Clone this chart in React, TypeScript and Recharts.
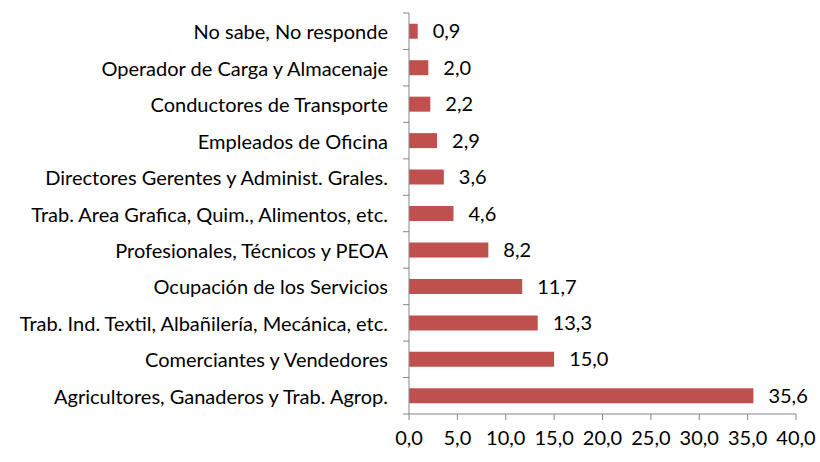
import { BarChart, Bar, XAxis, YAxis, LabelList } from "recharts";

const categories = [
  "No sabe, No responde",
  "Operador de Carga y Almacenaje",
  "Conductores  de Transporte",
  "Empleados de Oficina",
  "Directores Gerentes y Administ. Grales.",
  "Trab. Area Grafica, Quim., Alimentos, etc.",
  "Profesionales, Técnicos y PEOA",
  "Ocupación de los Servicios",
  "Trab. Ind. Textil, Albañilería, Mecánica, etc.",
  "Comerciantes y Vendedores",
  "Agricultores, Ganaderos y Trab. Agrop.",
];

const values = [0.9, 2.0, 2.2, 2.9, 3.6, 4.6, 8.2, 11.7, 13.3, 15.0, 35.6];

const xTicks = [0, 5, 10, 15, 20, 25, 30, 35, 40];

const data = categories.map((name, i) => ({ name, value: values[i] }));

const FONT = "Lato, 'Open Sans', sans-serif";
const FONT_SIZE = 20;
const AXIS_COLOR = "#868686";

function fmt(v: number): string {
  return v.toFixed(1).replace(".", ",");
}

// Excel-style category axis: tick marks sit between categories, not on them
function CategoryTick(props: any) {
  const { x, y, payload, index, visibleTicksCount } = props;
  const half = payload.offset ?? 0;
  return (
    <g>
      <line x1={x + 15} x2={x + 21} y1={y - half} y2={y - half} stroke={AXIS_COLOR} />
      {index === visibleTicksCount - 1 && (
        <line x1={x + 15} x2={x + 21} y1={y + half} y2={y + half} stroke={AXIS_COLOR} />
      )}
      <text
        x={x}
        y={y}
        textAnchor="end"
        dominantBaseline="central"
        fontSize={FONT_SIZE}
        fontFamily={FONT}
        fill="#000"
      >
        {payload.value}
      </text>
    </g>
  );
}

export default function App() {
  return (
    <div style={{ position: "absolute", left: 0, top: 0, background: "#fff", fontFamily: FONT }}>
      <BarChart
        width={820}
        height={462}
        data={data}
        layout="vertical"
        margin={{ top: 13, right: 24, bottom: 16, left: 0 }}
        barCategoryGap="29.5%"
      >
        <XAxis
          type="number"
          domain={[0, 40]}
          ticks={xTicks}
          tickFormatter={fmt}
          stroke={AXIS_COLOR}
          tickSize={6}
          tickMargin={11}
          height={32}
          tick={{ fill: "#000", fontSize: FONT_SIZE, fontFamily: FONT }}
          interval={0}
        />
        <YAxis
          type="category"
          dataKey="name"
          width={409}
          stroke={AXIS_COLOR}
          tickLine={false}
          tickSize={0}
          tickMargin={21}
          interval={0}
          tick={<CategoryTick />}
        />
        <Bar dataKey="value" fill="#C0504D" isAnimationActive={false}>
          <LabelList
            dataKey="value"
            position="right"
            offset={15}
            formatter={(v: any) => fmt(Number(v))}
            fill="#000"
            fontSize={FONT_SIZE}
            fontFamily={FONT}
          />
        </Bar>
      </BarChart>
    </div>
  );
}
